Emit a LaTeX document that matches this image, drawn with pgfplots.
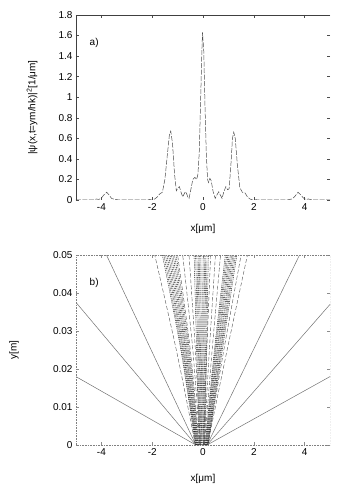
\documentclass[border=0pt]{standalone}
\usepackage{fontspec}
\setmainfont{Liberation Sans}
\usepackage{pgfplots}
\pgfplotsset{compat=1.18}
\begin{document}
\fontsize{10}{12}\selectfont
\begin{tikzpicture}
\useasboundingbox (-76pt,-284pt) rectangle (274pt,200pt);
\pgfplotsset{
  common/.style={
    scale only axis, width=254pt,
    xmin=-5, xmax=5,
    xtick={-4,-2,0,2,4},
    tick align=inside, major tick length=3pt,
    /pgf/number format/assume math mode=true,
    ticklabel style={font=\fontsize{10}{12}\selectfont},
    label style={font=\fontsize{10}{12}\selectfont},
    xlabel={x[μm]},
    axis line style={draw=none},
    clip=true,
  },
  traj/.style={black!90, line width=0.45pt, dash pattern=on 1pt off 0.9pt},
  gapl/.style={black!70, line width=0.4pt, dash pattern=on 4pt off 2pt},
  outl/.style={black!55, line width=0.5pt},
}
% ---------------- a) ----------------
\begin{axis}[common, at={(0,0)}, height=185pt,
  ymin=0, ymax=1.8,
  tick style={black!70, line width=0.5pt},
  ytick={0,0.2,0.4,0.6,0.8,1,1.2,1.4,1.6,1.8},
  yticklabels={0,0.2,0.4,0.6,0.8,1,1.2,1.4,1.6,1.8},
  ylabel={|ψ(x,t=ym/hk)|\textsuperscript{2}[1/μm]},
  ylabel style={at={(axis description cs:-0.173,0.5)}, anchor=center},
  xlabel style={at={(axis description cs:0.5,0)}, anchor=center, yshift=-29pt},
]
\addplot[black!70, line width=0.5pt, dash pattern=on 5pt off 1.5pt] coordinates {
(-5,0) (-4.3,0) (-4.2,0.01) (-4.1,0.005) (-4.0,0.02) (-3.9,0.05) (-3.79,0.075)
(-3.7,0.05) (-3.6,0.015) (-3.5,0.008) (-3.4,0.004) (-3.3,0) (-2.2,0) (-2.1,0.005)
(-2.0,0) (-1.9,0.01) (-1.8,0.03) (-1.7,0.06) (-1.6,0.075) (-1.5,0.2) (-1.4,0.45)
(-1.32,0.64) (-1.27,0.67) (-1.2,0.55) (-1.12,0.25) (-1.05,0.09) (-0.98,0.12)
(-0.93,0.13) (-0.87,0.08) (-0.8,0.03) (-0.72,0.07) (-0.67,0.08) (-0.6,0.03)
(-0.55,0.015) (-0.48,0.1) (-0.4,0.2) (-0.32,0.22) (-0.25,0.2) (-0.2,0.25)
(-0.15,0.45) (-0.1,0.9) (-0.05,1.4) (-0.02,1.63) (0.03,1.45) (0.08,0.9)
(0.13,0.45) (0.18,0.2) (0.22,0.17) (0.27,0.21) (0.32,0.19) (0.4,0.08)
(0.48,0.016) (0.55,0.05) (0.62,0.08) (0.68,0.05) (0.75,0.016) (0.82,0.08)
(0.9,0.13) (0.97,0.1) (1.03,0.11) (1.1,0.35) (1.16,0.6) (1.21,0.66) (1.27,0.6)
(1.35,0.35) (1.45,0.12) (1.55,0.075) (1.65,0.07) (1.75,0.03) (1.85,0.01)
(1.95,0) (2.1,0.003) (2.2,0) (3.3,0) (3.4,0.005) (3.5,0.01) (3.6,0.03)
(3.74,0.075) (3.85,0.05) (3.95,0.02) (4.05,0.005) (4.15,0.01) (4.3,0) (5,0)
};
\node[anchor=west] at (axis cs:-4.6,1.53) {a)};
\draw[black!75, line width=0.6pt] (rel axis cs:1,1) -- (rel axis cs:0,1) -- (rel axis cs:0,0) -- (rel axis cs:1,0);
\end{axis}
% ---------------- b) ----------------
\begin{axis}[common, at={(0,-245pt)}, height=190pt,
  ymin=0, ymax=0.05,
  tick style={black!45, line width=0.5pt},
  ytick={0,0.01,0.02,0.03,0.04,0.05},
  yticklabels={0,0.01,0.02,0.03,0.04,0.05},
  scaled y ticks=false,
  ylabel={y[m]},
  ylabel style={at={(axis description cs:-0.244,0.5)}, anchor=center},
  xlabel style={at={(axis description cs:0.5,0)}, anchor=center, yshift=-34pt},
]
% outer trajectories
\addplot[outl] coordinates {(-0.28,0) (-3.8,0.05)};
\addplot[outl] coordinates {(-0.28,0) (-6.57,0.05)};
\addplot[outl] coordinates {(-0.28,0) (-13.4,0.05)};
\addplot[outl] coordinates {(0.16,0) (3.8,0.05)};
\addplot[outl] coordinates {(0.16,0) (6.7,0.05)};
\addplot[outl] coordinates {(0.16,0) (13.6,0.05)};
% left band
\addplot[traj, smooth] coordinates {(-0.30,0) (-0.87,0.025) (-1.60,0.05)};
\addplot[traj, smooth] coordinates {(-0.285,0) (-0.84,0.025) (-1.54,0.05)};
\addplot[traj, smooth] coordinates {(-0.27,0) (-0.80,0.025) (-1.48,0.05)};
\addplot[traj, smooth] coordinates {(-0.26,0) (-0.77,0.025) (-1.42,0.05)};
\addplot[traj, smooth] coordinates {(-0.245,0) (-0.73,0.025) (-1.36,0.05)};
\addplot[traj, smooth] coordinates {(-0.23,0) (-0.69,0.025) (-1.30,0.05)};
\addplot[traj, smooth] coordinates {(-0.215,0) (-0.66,0.025) (-1.24,0.05)};
\addplot[traj, smooth] coordinates {(-0.20,0) (-0.62,0.025) (-1.18,0.05)};
\addplot[traj, smooth] coordinates {(-0.185,0) (-0.58,0.025) (-1.12,0.05)};
\addplot[traj, smooth] coordinates {(-0.17,0) (-0.54,0.025) (-1.06,0.05)};
% centre band
\addplot[traj] coordinates {(-0.15,0) (-0.35,0.05)};
\addplot[traj] coordinates {(-0.13,0) (-0.29,0.05)};
\addplot[traj] coordinates {(-0.11,0) (-0.24,0.05)};
\addplot[traj] coordinates {(-0.09,0) (-0.19,0.05)};
\addplot[traj] coordinates {(-0.07,0) (-0.14,0.05)};
\addplot[traj] coordinates {(-0.05,0) (-0.09,0.05)};
\addplot[traj] coordinates {(-0.03,0) (-0.04,0.05)};
\addplot[traj] coordinates {(-0.01,0) (0.01,0.05)};
\addplot[traj] coordinates {(0.01,0) (0.06,0.05)};
\addplot[traj] coordinates {(0.03,0) (0.11,0.05)};
\addplot[traj] coordinates {(0.05,0) (0.16,0.05)};
\addplot[traj] coordinates {(0.07,0) (0.21,0.05)};
% right band
\addplot[traj, smooth] coordinates {(0.08,0) (0.45,0.025) (0.88,0.05)};
\addplot[traj, smooth] coordinates {(0.095,0) (0.48,0.025) (0.93,0.05)};
\addplot[traj, smooth] coordinates {(0.11,0) (0.51,0.025) (0.98,0.05)};
\addplot[traj, smooth] coordinates {(0.12,0) (0.55,0.025) (1.03,0.05)};
\addplot[traj, smooth] coordinates {(0.135,0) (0.58,0.025) (1.08,0.05)};
\addplot[traj, smooth] coordinates {(0.15,0) (0.62,0.025) (1.13,0.05)};
\addplot[traj, smooth] coordinates {(0.16,0) (0.65,0.025) (1.18,0.05)};
\addplot[traj, smooth] coordinates {(0.175,0) (0.69,0.025) (1.23,0.05)};
\addplot[traj, smooth] coordinates {(0.19,0) (0.72,0.025) (1.28,0.05)};
\addplot[traj, smooth] coordinates {(0.20,0) (0.76,0.025) (1.33,0.05)};
% gap and fringe trajectories
\addplot[gapl, smooth] coordinates {(-0.15,0) (-0.50,0.025) (-1.00,0.05)};
\addplot[gapl, smooth] coordinates {(-0.12,0) (-0.40,0.025) (-0.80,0.05)};
\addplot[gapl, smooth] coordinates {(-0.10,0) (-0.30,0.025) (-0.55,0.05)};
\addplot[gapl, smooth] coordinates {(0.02,0) (0.15,0.025) (0.30,0.05)};
\addplot[gapl, smooth] coordinates {(0.04,0) (0.25,0.025) (0.49,0.05)};
\addplot[gapl, smooth] coordinates {(0.06,0) (0.36,0.025) (0.69,0.05)};
\addplot[gapl, smooth] coordinates {(-0.30,0) (-1.05,0.025) (-1.90,0.05)};
\addplot[gapl, smooth] coordinates {(0.18,0) (0.82,0.025) (1.50,0.05)};
\addplot[gapl, smooth] coordinates {(0.18,0) (0.95,0.025) (1.75,0.05)};
\node[anchor=west] at (axis cs:-4.6,0.0426) {b)};
\draw[black!50, line width=0.6pt, dash pattern=on 0.8pt off 0.8pt] (rel axis cs:0,0) rectangle (rel axis cs:1,1);
\end{axis}
\end{tikzpicture}
\end{document}
